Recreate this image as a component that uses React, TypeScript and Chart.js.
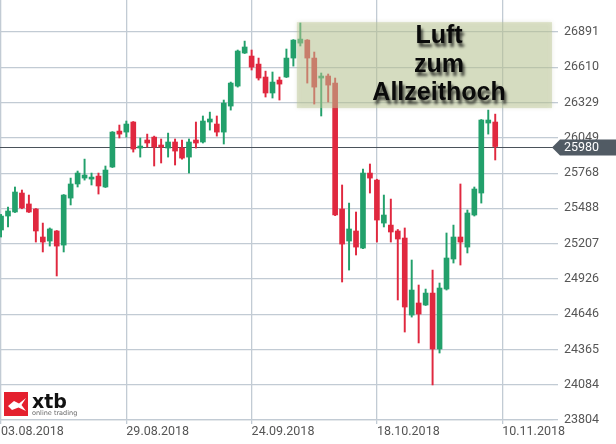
import React, { useEffect, useRef } from "react";
import { Chart, registerables } from "chart.js";

Chart.register(...registerables);

// ---- data ----
const opens = [
  25316, 25427, 25459, 25610, 25523, 25483, 25260, 25228, 25308, 25196,
  25570, 25682, 25729, 25721, 25745, 25658, 25817, 26103, 26095, 26175,
  25968, 26032, 26055, 25992, 25968, 26016, 25968, 25896, 26032, 26016,
  26175, 26159, 26095, 26302, 26461, 26724, 26700, 26636, 26533, 26406,
  26509, 26533, 26684, 26803, 26827, 26684, 26525, 26541, 26485, 25483,
  25228, 25308, 25172, 25769, 25713, 25371, 25355, 25308, 25252, 24639,
  24735, 24719, 24814, 24369, 24846, 25085, 25260, 25180, 25435, 25610,
  26167, 26175,
];
const highs = [
  25440, 25499, 25658, 25634, 25594, 25487, 25371, 25332, 25312, 25598,
  25729, 25785, 25880, 25769, 25769, 25825, 26099, 26151, 26183, 26179,
  26048, 26079, 26063, 26040, 26087, 26040, 26032, 26040, 26175, 26223,
  26254, 26223, 26350, 26493, 26748, 26819, 26748, 26684, 26580, 26573,
  26533, 26756, 26831, 26963, 26831, 26732, 26565, 26557, 26525, 25674,
  25530, 25459, 25801, 25841, 25720, 25594, 25562, 25320, 25332, 25077,
  24878, 24846, 24997, 24894, 25292, 25355, 25682, 25475, 25658, 26195,
  26270, 26238,
];
const lows = [
  25260, 25340, 25455, 25485, 25455, 25220, 25141, 25188, 24950, 25141,
  25515, 25658, 25713, 25674, 25602, 25654, 25813, 26048, 26055, 25936,
  25896, 25976, 25825, 25849, 25896, 25833, 25880, 25769, 25968, 26008,
  26111, 26063, 26000, 26270, 26453, 26720, 26589, 26509, 26374, 26366,
  26350, 26529, 26620, 26780, 26485, 26318, 26223, 26334, 25430, 24902,
  24997, 25117, 25168, 25610, 25220, 25340, 25220, 24759, 24504, 24623,
  24417, 24715, 24083, 24337, 24838, 25053, 25037, 25133, 25427, 25530,
  26079, 25873,
];
const closes = [
  25427, 25467, 25618, 25491, 25459, 25308, 25220, 25324, 25188, 25594,
  25682, 25769, 25753, 25737, 25666, 25793, 26095, 26079, 26159, 25960,
  25984, 26008, 25976, 25976, 26016, 25944, 25888, 26016, 26008, 26183,
  26199, 26095, 26326, 26485, 26740, 26772, 26612, 26525, 26406, 26493,
  26477, 26684, 26827, 26835, 26684, 26453, 26541, 26469, 25435, 25204,
  25324, 25180, 25769, 25729, 25395, 25435, 25300, 25244, 24703, 24838,
  24647, 24814, 24369, 24854, 25093, 25260, 25220, 25451, 25642, 26191,
  26191, 25980,
];

const dateLabels = ["03.08.2018", "29.08.2018", "24.09.2018", "18.10.2018", "10.11.2018"];
const dateTickIndex = [0, 18, 36, 54, 72];
const priceTicks = [23804, 24084, 24365, 24646, 24926, 25207, 25488, 25768, 26049, 26329, 26610, 26891];
const lastPrice = 25980;
const zoneStartIndex = 42.5;
const zoneLow = 26286;
const zoneHigh = 26970;
const annotationLines = ["Luft", "zum", "Allzeithoch"];

const GREEN = "#22a06b";
const RED = "#e0283f";
const GRID = "#c2cbd4";
const FONT = "Roboto";

export default function App() {
  const ref = useRef<HTMLCanvasElement>(null);

  useEffect(() => {
    const canvas = ref.current;
    if (!canvas) return;
    const idx = opens.map((_, i) => i);
    const colors = idx.map((i) => (closes[i] >= opens[i] ? GREEN : RED));

    const overlay = {
      id: "overlay",
      beforeDatasetsDraw(chart: any) {
        const { ctx, chartArea, scales } = chart;
        const py = Math.round(scales.y.getPixelForValue(lastPrice)) + 0.5;
        ctx.save();
        ctx.strokeStyle = "#4a525a";
        ctx.lineWidth = 1.2;
        ctx.beginPath();
        ctx.moveTo(chartArea.left, py);
        ctx.lineTo(chartArea.right, py);
        ctx.stroke();
        ctx.restore();
      },
      afterDatasetsDraw(chart: any) {
        const { ctx, chartArea, scales } = chart;
        const x0 = scales.x.getPixelForValue(zoneStartIndex);
        const x1 = chartArea.right - 1;
        const y0 = scales.y.getPixelForValue(zoneHigh);
        const y1 = scales.y.getPixelForValue(zoneLow);
        ctx.save();
        ctx.shadowColor = "rgba(140,150,110,0.45)";
        ctx.shadowBlur = 4;
        ctx.fillStyle = "rgba(190,202,150,0.45)";
        ctx.fillRect(x0, y0, x1 - x0, y1 - y0);
        ctx.restore();

        ctx.save();
        ctx.font = 'bold 25px "Liberation Sans"';
        ctx.textAlign = "center";
        ctx.textBaseline = "alphabetic";
        ctx.fillStyle = "#0a0a0a";
        ctx.shadowColor = "rgba(0,0,0,0.7)";
        ctx.shadowBlur = 3;
        ctx.shadowOffsetX = 2;
        ctx.shadowOffsetY = 4;
        const cx = 439;
        const baseOffsets = [21, 50, 78];
        annotationLines.forEach((t, i) => ctx.fillText(t, cx, y0 + baseOffsets[i]));
        ctx.restore();
      },
      afterDraw(chart: any) {
        const { ctx, chartArea, scales } = chart;
        const py = Math.round(scales.y.getPixelForValue(lastPrice)) + 0.5;
        const tip = chartArea.right - 1;
        ctx.save();
        ctx.fillStyle = "#515b64";
        ctx.beginPath();
        ctx.moveTo(tip, py);
        ctx.lineTo(tip + 8, py - 8);
        ctx.lineTo(616, py - 8);
        ctx.lineTo(616, py + 8);
        ctx.lineTo(tip + 8, py + 8);
        ctx.closePath();
        ctx.fill();
        ctx.fillStyle = "#ffffff";
        ctx.font = `12.5px ${FONT}`;
        ctx.textBaseline = "middle";
        ctx.textAlign = "left";
        ctx.fillText(String(lastPrice), chartArea.right + 11, py + 0.5);
        ctx.restore();

        // logo
        ctx.save();
        ctx.fillStyle = "#e4202e";
        ctx.fillRect(4, 392, 24, 24);
        ctx.fillStyle = "#ffffff";
        ctx.beginPath();
        ctx.moveTo(8, 406);
        ctx.lineTo(14, 401);
        ctx.lineTo(19, 403.5);
        ctx.lineTo(26, 398);
        ctx.lineTo(21.5, 405);
        ctx.lineTo(26, 411);
        ctx.lineTo(18.5, 407.5);
        ctx.lineTo(12, 410);
        ctx.closePath();
        ctx.fill();
        ctx.fillStyle = "#111";
        ctx.font = 'bold 19px "DejaVu Sans"';
        ctx.textBaseline = "alphabetic";
        ctx.fillText("xtb", 32, 408);
        ctx.fillStyle = "#666";
        ctx.font = '6.5px "DejaVu Sans"';
        ctx.fillText("online trading", 32, 415);
        ctx.restore();
      },
    };

    const chart = new Chart(canvas, {
      type: "bar",
      data: {
        datasets: [
          {
            label: "body",
            data: idx.map((i) => ({ x: i, y: [opens[i], closes[i]] })) as any,
            backgroundColor: colors,
            barThickness: 5,
            grouped: false,
            minBarLength: 2,
            borderWidth: 0,
          } as any,
          {
            label: "wick",
            data: idx.map((i) => ({ x: i, y: [lows[i], highs[i]] })) as any,
            backgroundColor: colors,
            barThickness: 1.3,
            grouped: false,
            borderWidth: 0,
          } as any,
        ],
      },
      options: {
        responsive: false,
        animation: false,
        maintainAspectRatio: false,
        layout: { padding: 0 },
        plugins: { legend: { display: false }, tooltip: { enabled: false } },
        scales: {
          x: {
            type: "linear",
            min: -0.15,
            max: 79.3,
            offset: false,
            afterBuildTicks: (s: any) => {
              s.ticks = dateTickIndex.map((v) => ({ value: v }));
            },
            afterFit: (s: any) => {
              s.height = 24;
              s.paddingLeft = 0;
              s.paddingRight = 0;
            },
            ticks: {
              callback: (_v: any, i: number) => dateLabels[i] ?? "",
              align: "start",
              color: "#555",
              font: { family: FONT, size: 12.5 },
              padding: 0,
              maxRotation: 0,
              autoSkip: false,
            },
            grid: { color: GRID, lineWidth: 1.3, tickLength: 4, offset: false },
            border: { display: true, color: GRID, width: 1.3 },
          } as any,
          y: {
            type: "linear",
            position: "right",
            min: 23804,
            max: 27146,
            afterBuildTicks: (s: any) => {
              s.ticks = priceTicks.map((v) => ({ value: v }));
            },
            afterFit: (s: any) => {
              s.width = 63;
              s.paddingTop = 0;
              s.paddingBottom = 0;
            },
            ticks: {
              callback: (v: any) => String(v),
              color: "#555",
              font: { family: FONT, size: 12.5 },
              padding: 6,
              autoSkip: false,
            },
            grid: { color: GRID, lineWidth: 1.3, tickLength: 5 },
            border: { display: false },
          } as any,
        },
      },
      plugins: [overlay],
    });
    return () => chart.destroy();
  }, []);

  return (
    <div style={{ position: "fixed", left: 0, top: 0, width: 616, height: 444, background: "#fff" }}>
      <canvas ref={ref} width={616} height={444} style={{ display: "block" }} />
    </div>
  );
}
